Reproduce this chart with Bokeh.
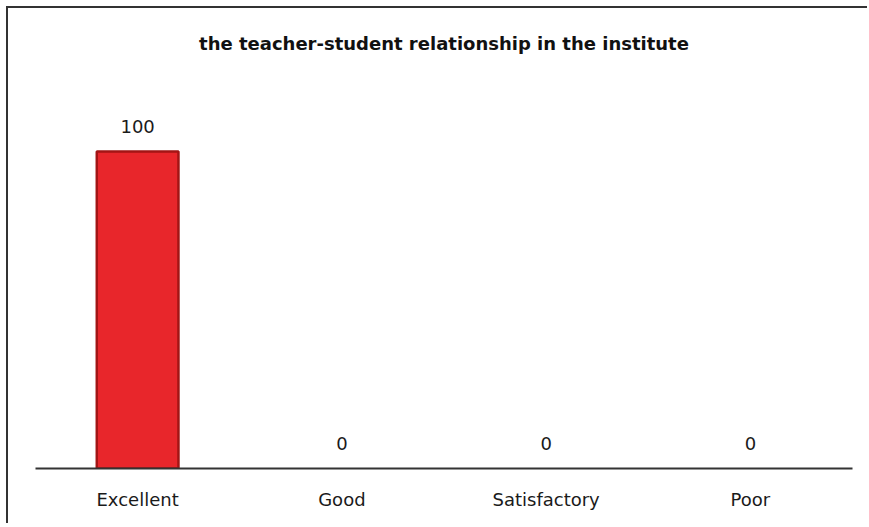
from bokeh.plotting import figure
from bokeh.models import ColumnDataSource, Range1d
from bokeh.core.properties import value
from bokeh.embed import file_html
from bokeh.resources import INLINE

categories = ["Excellent", "Good", "Satisfactory", "Poor"]
values = [100, 0, 0, 0]
labels = ["100", "0", "0", "0"]
title = "the teacher-student relationship in the institute"

edge_alpha = [1 if v > 0 else 0 for v in values]
src = ColumnDataSource(dict(cat=categories, val=values, lab=labels, ea=edge_alpha))

p = figure(x_range=categories, y_range=Range1d(0, 124), width=861, height=517,
           output_backend="svg", toolbar_location=None, title=title,
           min_border_left=27, min_border_right=17, min_border_top=67, min_border_bottom=57)
p.x_range.range_padding = 0
p.x_range.factor_padding = 0

p.vbar(x="cat", top="val", width=0.4, source=src, fill_color="#E8262B",
       line_color="#A31515", line_alpha="ea", line_width=2.5)
p.text(x="cat", y="val", text="lab", source=src, text_align="center",
       text_baseline="alphabetic", y_offset=-25, text_font=value("DejaVu Sans"),
       text_font_size="18px", text_color="#1a1a1a")

p.title.text_font = "DejaVu Sans"
p.title.text_font_size = "18px"
p.title.text_font_style = "bold"
p.title.text_color = "#111111"
p.title.align = "center"
p.title.standoff = 43

p.yaxis.visible = False
p.xgrid.grid_line_color = None
p.ygrid.grid_line_color = None
p.outline_line_color = None

ax = p.xaxis[0]
ax.axis_line_color = "#333333"
ax.axis_line_width = 2
ax.major_tick_line_color = None
ax.minor_tick_line_color = None
ax.major_tick_out = 0
ax.major_tick_in = 0
ax.major_label_standoff = 20
ax.major_label_text_font = "DejaVu Sans"
ax.major_label_text_font_size = "18px"
ax.major_label_text_color = "#1a1a1a"

p.styles = {"border-left": "2px solid #333333", "border-top": "2px solid #333333",
            "margin-left": "6px", "margin-top": "6px"}

open("out.html", "w").write(file_html(p, INLINE))
